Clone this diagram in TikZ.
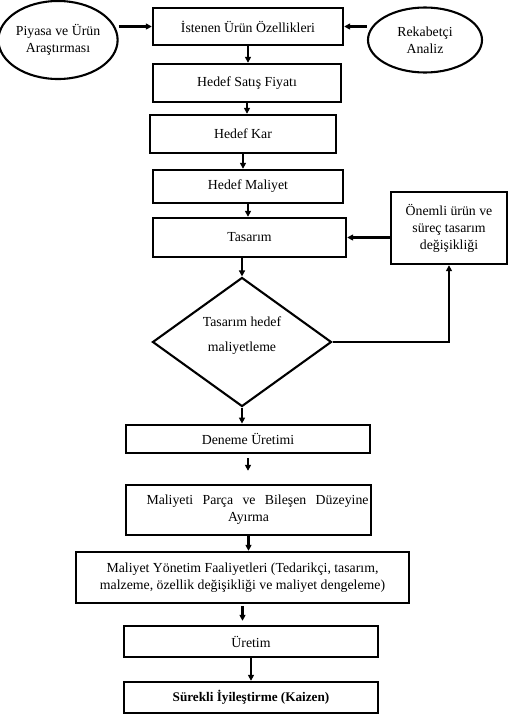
\documentclass[tikz,border=0pt]{standalone}
\usepackage{fontspec}
\setmainfont{Liberation Serif}
\usetikzlibrary{arrows.meta,shapes.geometric}

\begin{document}
\begin{tikzpicture}[x=1pt,y=-1pt,>={Triangle[length=6pt,width=6pt]},line width=2.1pt,
    font=\fontsize{13.8}{17}\selectfont,
    kutu/.style={draw,rectangle,inner sep=2pt,align=center,line width=2.4pt},
    elips/.style={draw,ellipse,inner sep=0pt,align=center},
    karar/.style={draw,diamond,inner sep=0pt,align=center,text depth=16pt}]

    \useasboundingbox (0,0) rectangle (510,718);

    % ust kisim
    \node[elips, minimum width=112pt, minimum height=78pt] (0) at (58,40) {Piyasa ve Ürün\\Araştırması};
    \node[kutu, minimum width=190pt, minimum height=37pt] (1) at (248,26.5) {İstenen Ürün Özellikleri};
    \node[elips, minimum width=114pt, minimum height=65pt] (2) at (425,40) {Rekabetçi\\Analiz};

    \node[kutu, minimum width=188pt, minimum height=38pt] (3) at (247,83) {Hedef Satış Fiyatı};
    \node[kutu, minimum width=186pt, minimum height=38pt] (4) at (243,134) {Hedef Kar};
    \node[kutu, minimum width=190pt, minimum height=33pt] (5) at (248,186.5) {Hedef Maliyet};
    \node[kutu, minimum width=193pt, minimum height=39pt] (6) at (249.5,237.5) {Tasarım};
    \node[kutu, minimum width=116pt, minimum height=72pt] (7) at (449,228) {Önemli ürün ve\\süreç tasarım\\değişikliği};

    \node[karar, minimum width=179pt, minimum height=121pt] (8) at (242,342) {Tasarım hedef\\[8pt]maliyetleme};

    % alt kisim
    \node[kutu, minimum width=244pt, minimum height=28pt, line width=2.8pt] (9) at (248,439) {Deneme Üretimi};
    \node[kutu, minimum width=245pt, minimum height=50pt] (10) at (248.5,510) {\hspace*{18pt}\makebox[222pt][s]{Maliyeti Parça ve Bileşen Düzeyine}\\Ayırma};
    \node[kutu, minimum width=333pt, minimum height=51pt] (11) at (242.5,577.5) {Maliyet Yönetim Faaliyetleri (Tedarikçi, tasarım,\\malzeme, özellik değişikliği ve maliyet dengeleme)};
    \node[kutu, minimum width=254pt, minimum height=31pt] (12) at (251,641.5) {Üretim};
    \node[kutu, minimum width=254pt, minimum height=31pt, font=\fontsize{13.2}{16}\selectfont\bfseries] (13) at (251,697.5) {Sürekli İyileştirme (Kaizen)};

    \path[->]
    (0.east |- 1.west) edge (1.west)
    (2.west |- 1.east) edge (1.east)
    (1.south) edge (1.south |- 3.north)
    (3.south) edge (3.south |- 4.north)
    (4.south) edge (4.south |- 5.north)
    (5.south) edge (5.south |- 6.north)
    (6.south -| 8.north) edge (8.north)
    (7.west |- 6.east) edge (6.east)
    (8.south) edge (8.south |- 9.north)
    (9.south) edge [shorten <=4pt, shorten >=13pt] (9.south |- 10.north)
    (10.south) edge (10.south |- 11.north)
    (11.south) edge [shorten <=2pt, shorten >=4pt] (11.south |- 12.north)
    (12.south) edge (12.south |- 13.north)
    ;
    \draw[->] (8.east) -| (7.south);
\end{tikzpicture}
\end{document}
